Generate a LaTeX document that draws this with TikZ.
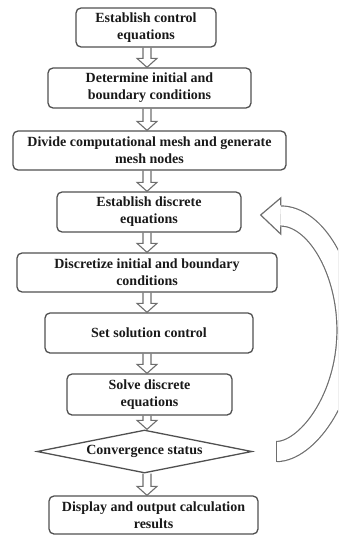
\documentclass[tikz,border=0pt]{standalone}
\usepackage{fontspec}
\setmainfont{Liberation Serif}
\usetikzlibrary{calc,shapes.geometric}
\definecolor{boxgray}{HTML}{505050}
\definecolor{arrgray}{HTML}{6E6E6E}
\tikzset{
  flowfont/.style={font=\fontsize{14}{17}\selectfont\bfseries, text=black!90},
  flowbox/.style={flowfont, draw=boxgray, line width=1.3pt, rounded corners=5pt,
    align=center, inner sep=0pt},
  decision/.style={flowfont, draw=boxgray, line width=1.3pt, diamond, aspect=5,
    inner sep=0pt, align=center},
  blockarrow/.style={draw=arrgray, line width=1.1pt, line join=miter},
  looparrow/.style={draw=arrgray, line width=1.2pt, line join=miter},
}
\newcommand\flowarrow[2]{%
  \draw[blockarrow] let \p1=(#1.south -| axis), \p2=(#2.north -| axis) in
    (\x1-4pt,\y1) -- (\x1-4pt,\y2+9pt) -- (\x1-10pt,\y2+9pt) -- (\x1,\y2)
    -- (\x1+10pt,\y2+9pt) -- (\x1+4pt,\y2+9pt) -- (\x1+4pt,\y1);
}
\begin{document}
\begin{tikzpicture}[x=1pt,y=-1pt]
\useasboundingbox (0,0) rectangle (338,535);
\coordinate (axis) at (147,0);

\node[flowbox, minimum width=140pt, minimum height=39pt] (b1) at (146,27.5)
  {Establish control\\equations};
\node[flowbox, minimum width=203pt, minimum height=40pt] (b2) at (149.5,88)
  {Determine initial and\\boundary conditions};
\node[flowbox, minimum width=273pt, minimum height=39pt] (b3) at (149.5,150.5)
  {Divide computational mesh and generate\\mesh nodes};
\node[flowbox, minimum width=184pt, minimum height=40pt] (b4) at (149,212)
  {Establish discrete\\equations};
\node[flowbox, minimum width=260pt, minimum height=39pt] (b5) at (147,272.5)
  {Discretize initial and boundary\\conditions};
\node[flowbox, minimum width=208pt, minimum height=40pt] (b6) at (149,333)
  {Set solution control};
\node[flowbox, minimum width=165pt, minimum height=41pt] (b7) at (149.5,394.5)
  {Solve discrete\\equations};
\node[decision, minimum width=215pt, minimum height=43pt] (d) at (144.5,451.5)
  {Convergence status};
\node[flowbox, minimum width=209pt, minimum height=38pt] (b8) at (153.5,515)
  {Display and output calculation\\results};

\flowarrow{b1}{b2}
\flowarrow{b2}{b3}
\flowarrow{b3}{b4}
\flowarrow{b4}{b5}
\flowarrow{b5}{b6}
\flowarrow{b6}{b7}
\flowarrow{b7}{d}
\flowarrow{d}{b8}

% curved return arrow
\coordinate (ls) at ($(d.east)+(24,0)$);
\coordinate (apex) at (347,330);
\coordinate (le) at ($(b4.east)+(39,4)$);
\coordinate (tip) at ($(b4.east)+(19,3)$);
\begin{scope}
  \clip (0,0) rectangle (338,535);
  \draw[arrgray, line width=21.3pt] (ls) .. controls +(29,0) and +(0,70) .. (apex)
     .. controls +(0,-60) and +(35,0) .. (le);
  \draw[white, line width=18.9pt] (ls) .. controls +(29,0) and +(0,70) .. (apex)
     .. controls +(0,-60) and +(35,0) .. (le);
\end{scope}
\draw[looparrow] ($(ls)+(0,-10.6)$) -- ($(ls)+(0,10.6)$);
\draw[looparrow] ($(le)+(0,-10.6)$) -- ($(le)+(0,-18)$) -- (tip)
  -- ($(le)+(0,18)$) -- ($(le)+(0,10.6)$);
\end{tikzpicture}
\end{document}
